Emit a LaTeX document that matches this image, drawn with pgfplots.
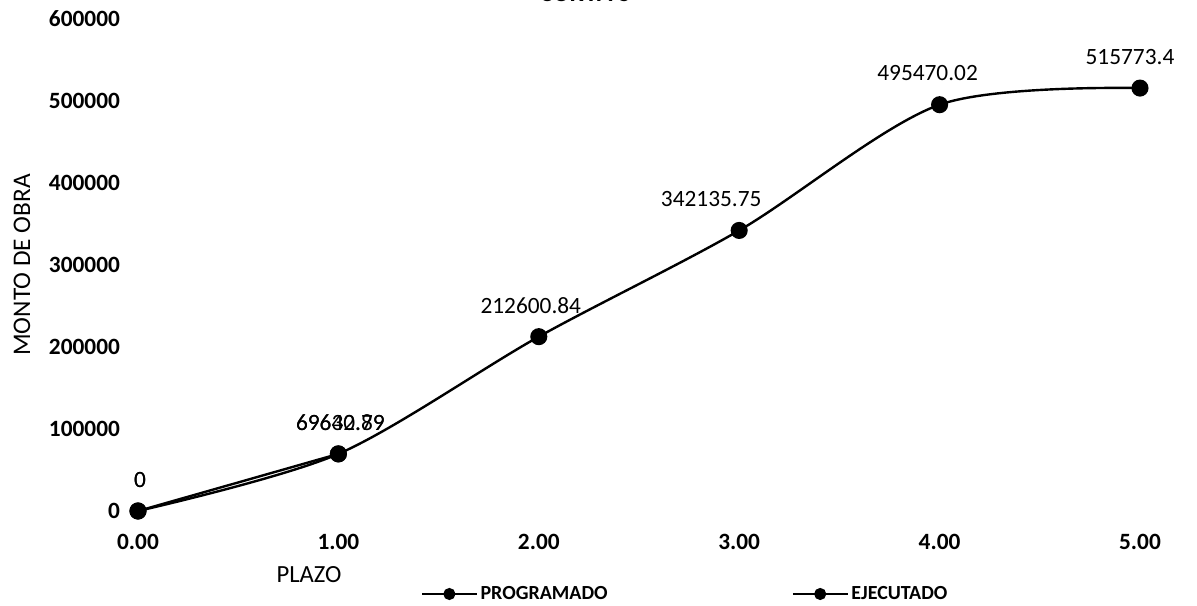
\documentclass[border=0pt]{standalone}
\usepackage{pgfplots}
\pgfplotsset{compat=1.18}
\usepackage{fontspec}
\setmainfont{Carlito}
\begin{document}
\begin{tikzpicture}
\useasboundingbox (-103.5pt,-71.25pt) rectangle (794.25pt,383.25pt);
\begin{axis}[
  scale only axis,
  width=751.5pt, height=369pt,
  xmin=0, xmax=5, ymin=0, ymax=600000,
  scaled y ticks=false, scaled x ticks=false,
  xtick={0,1,2,3,4,5},
  xticklabels={0.00,1.00,2.00,3.00,4.00,5.00},
  ytick={0,100000,200000,300000,400000,500000,600000},
  yticklabels={0,100000,200000,300000,400000,500000,600000},
  axis line style={draw=none},
  tick style={draw=none},
  yticklabel style={font=\fontsize{17.5}{20}\selectfont\bfseries, xshift=-10pt},
  xticklabel style={font=\fontsize{17.5}{20}\selectfont\bfseries, yshift=-14pt},
  xlabel={PLAZO},
  ylabel={MONTO DE OBRA},
  every axis x label/.style={at={(axis description cs:0.1707,-0.130)}, anchor=center, font=\fontsize{18.5}{21}\selectfont},
  every axis y label/.style={at={(axis description cs:-0.1158,0.5)}, rotate=90, anchor=center, font=\fontsize{19}{22}\selectfont},
  legend columns=2,
  legend style={draw=none, at={(axis description cs:0.5464,-0.1687)}, anchor=center, font=\fontsize{15}{17}\selectfont\bfseries,
    /tikz/every even column/.append style={column sep=136pt}},
  legend image code/.code={\draw[line width=1.8pt] (0pt,0pt) -- (41pt,0pt); \fill (20.5pt,0pt) circle (3.6pt);},
  every node near coord/.append style={font=\fontsize{17.5}{20}\selectfont, anchor=center, yshift=23.5pt, xshift=\dx pt, text=black},
  nodes near coords,
  point meta=explicit symbolic,
  visualization depends on={\thisrow{dx} \as \dx},
]
\addplot[black, line width=1.8pt, smooth, mark=*, mark size=5.5pt] table[x=x, y=y, meta=lab] {
x y lab dx
0 0 0 1.5
1 69642.89 69642.89 1.5
2 212600.84 212600.84 -6
3 342135.75 342135.75 -21
4 495470.02 495470.02 -9
5 515773.4 515773.4 -7.5
};
\addlegendentry{PROGRAMADO}
\addplot[black, line width=1.8pt, mark=*, mark size=5.5pt] table[x=x, y=y, meta=lab] {
x y lab dx
0 0 0 1.5
1 69630.79 69630.79 1.5
};
\addlegendentry{EJECUTADO}
\end{axis}
\node[anchor=base, font=\fontsize{19}{22}\selectfont\bfseries] at (335.25pt,382.25pt) {CURVA S};
\end{tikzpicture}
\end{document}
